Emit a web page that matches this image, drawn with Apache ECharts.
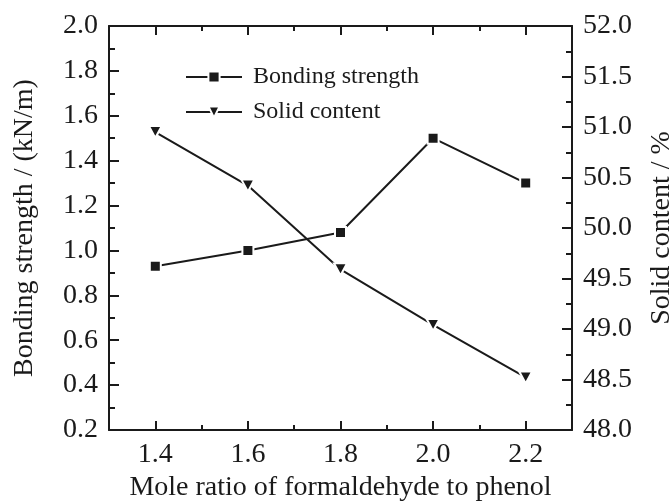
<!DOCTYPE html>
<html>
<head>
<meta charset="utf-8">
<script src="https://cdn.jsdelivr.net/npm/echarts@6/dist/echarts.min.js"></script>
<style>
  html, body { margin: 0; padding: 0; background: #fff; }
  #chart { width: 671px; height: 502px; }
</style>
</head>
<body>
<div id="chart"></div>
<script>
var moleRatio = [1.4, 1.6, 1.8, 2.0, 2.2];
var bondingStrength = [0.93, 1.00, 1.08, 1.50, 1.30];
var solidContent = [50.95, 50.42, 49.59, 49.04, 48.52];
var xMajorTicks = [1.4, 1.6, 1.8, 2.0, 2.2];
var xMinorTicks = [1.5, 1.7, 1.9, 2.1];

var ink = '#1a1a1a';
var font = 'Liberation Serif';
var downTriangle = 'path://M0,0 L12,0 L6,11 Z';

function pairs(xs, ys) {
    return xs.map(function (x, i) { return [x, ys[i]]; });
}

function tickAxis(position, values, len, withLabel) {
    return {
        type: 'value',
        position: position,
        min: 1.3,
        max: 2.3,
        interval: 0.1,
        axisLine: { show: withLabel, lineStyle: { color: ink, width: 2 } },
        splitLine: { show: false },
        axisTick: {
            show: true, inside: true, length: len,
            customValues: values,
            lineStyle: { color: ink, width: 2 }
        },
        axisLabel: withLabel && position === 'bottom' ? {
            show: true, customValues: xMajorTicks, margin: 11,
            color: ink, fontFamily: font, fontSize: 28,
            formatter: function (v) { return v.toFixed(1); }
        } : { show: false },
        name: withLabel && position === 'bottom' ? 'Mole ratio of formaldehyde to phenol' : '',
        nameLocation: 'middle',
        nameGap: 38,
        nameTextStyle: { color: ink, fontFamily: font, fontSize: 28 }
    };
}

var option = {
    backgroundColor: '#fff',
    animation: false,
    grid: { left: 109, right: 99, top: 26, bottom: 72, outerBoundsMode: 'none' },
    legend: {
        orient: 'vertical',
        left: 180,
        top: 60,
        itemWidth: 56,
        itemHeight: 14,
        itemGap: 11,
        textStyle: { color: ink, fontFamily: font, fontSize: 24, padding: [0, 0, 0, 6] },
        data: ['Bonding strength', 'Solid content']
    },
    xAxis: [
        tickAxis('bottom', xMajorTicks, 9, true),
        tickAxis('bottom', xMinorTicks, 5, false),
        tickAxis('top', xMajorTicks, 9, true),
        tickAxis('top', xMinorTicks, 5, false)
    ],
    yAxis: [{
        type: 'value',
        position: 'left',
        min: 0.2,
        max: 2.0,
        interval: 0.2,
        axisLine: { show: true, lineStyle: { color: ink, width: 2 } },
        splitLine: { show: false },
        axisTick: { inside: true, length: 10, lineStyle: { color: ink, width: 2 } },
        minorTick: { show: true, splitNumber: 2, length: 6, lineStyle: { color: ink, width: 2 } },
        axisLabel: {
            margin: 11, color: ink, fontFamily: font, fontSize: 28,
            formatter: function (v) { return v.toFixed(1); }
        },
        name: 'Bonding strength / (kN/m)',
        nameLocation: 'middle',
        nameGap: 70,
        nameTextStyle: { color: ink, fontFamily: font, fontSize: 28 }
    }, {
        type: 'value',
        position: 'right',
        min: 48,
        max: 52,
        interval: 0.5,
        axisLine: { show: true, lineStyle: { color: ink, width: 2 } },
        splitLine: { show: false },
        axisTick: { inside: true, length: 10, lineStyle: { color: ink, width: 2 } },
        minorTick: { show: true, splitNumber: 2, length: 6, lineStyle: { color: ink, width: 2 } },
        axisLabel: {
            margin: 11, color: ink, fontFamily: font, fontSize: 28,
            formatter: function (v) { return v.toFixed(1); }
        },
        name: 'Solid content / %',
        nameLocation: 'middle',
        nameGap: 76,
        nameTextStyle: { color: ink, fontFamily: font, fontSize: 28 }
    }],
    series: [{
        name: 'Bonding strength',
        type: 'line',
        xAxisIndex: 0,
        yAxisIndex: 0,
        data: pairs(moleRatio, bondingStrength),
        symbol: 'rect',
        symbolSize: 11,
        showAllSymbol: true,
        lineStyle: { color: ink, width: 2 },
        itemStyle: { color: ink, borderColor: '#fff', borderWidth: 2 }
    }, {
        name: 'Solid content',
        type: 'line',
        xAxisIndex: 0,
        yAxisIndex: 1,
        data: pairs(moleRatio, solidContent),
        symbol: downTriangle,
        symbolSize: [13, 12],
        showAllSymbol: true,
        lineStyle: { color: ink, width: 2 },
        itemStyle: { color: ink, borderColor: '#fff', borderWidth: 2 }
    }]
};

var chart = echarts.init(document.getElementById('chart'));
chart.setOption(option);
</script>
</body>
</html>
